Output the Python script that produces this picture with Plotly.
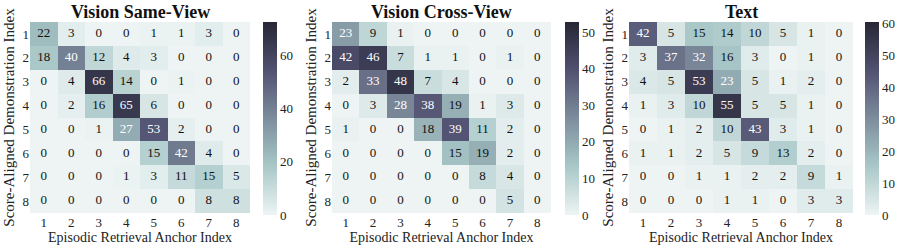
import numpy as np
import plotly.graph_objects as go

titles = ["Vision Same-View", "Vision Cross-View", "Text"]
idx = [1, 2, 3, 4, 5, 6, 7, 8]

same_view = [
    [22, 3, 0, 0, 1, 1, 3, 0],
    [18, 40, 12, 4, 3, 0, 0, 0],
    [0, 4, 66, 14, 0, 1, 0, 0],
    [0, 2, 16, 65, 6, 0, 0, 0],
    [0, 0, 1, 27, 53, 2, 0, 0],
    [0, 0, 0, 0, 15, 42, 4, 0],
    [0, 0, 0, 1, 3, 11, 15, 5],
    [0, 0, 0, 0, 0, 0, 8, 8],
]
cross_view = [
    [23, 9, 1, 0, 0, 0, 0, 0],
    [42, 46, 7, 1, 1, 0, 1, 0],
    [2, 33, 48, 7, 4, 0, 0, 0],
    [0, 3, 28, 38, 19, 1, 3, 0],
    [1, 0, 0, 18, 39, 11, 2, 0],
    [0, 0, 0, 0, 15, 19, 2, 0],
    [0, 0, 0, 0, 0, 8, 4, 0],
    [0, 0, 0, 0, 0, 0, 5, 0],
]
text_mod = [
    [42, 5, 15, 14, 10, 5, 1, 0],
    [3, 37, 32, 16, 3, 0, 1, 0],
    [4, 5, 53, 23, 5, 1, 2, 0],
    [1, 3, 10, 55, 5, 5, 1, 0],
    [0, 1, 2, 10, 43, 3, 1, 0],
    [1, 1, 2, 5, 9, 13, 2, 0],
    [0, 0, 1, 1, 2, 2, 9, 1],
    [0, 0, 0, 1, 1, 0, 3, 3],
]
matrices = [same_view, cross_view, text_mod]
cbar_ticks = [[0, 20, 40, 60], [0, 10, 20, 30, 40, 50], [0, 10, 20, 30, 40, 50, 60]]

# bone colormap, sampled over a cropped range (light -> dark)
def bone(v):
    r = np.interp(v, [0, 0.746032, 1], [0, 0.652778, 1])
    g = np.interp(v, [0, 0.365079, 0.746032, 1], [0, 0.319444, 0.777778, 1])
    b = np.interp(v, [0, 0.365079, 1], [0, 0.444444, 1])
    return "rgb(%d,%d,%d)" % (round(r * 255), round(g * 255), round(b * 255))

lo, hi = 0.95, 0.17
cscale = [[t, bone(lo + (hi - lo) * t)] for t in np.linspace(0, 1, 21)]

W, H = 897, 249
heat_x = [(30, 250), (332, 551), (629, 853)]
cbar_x = [263, 565, 865]
top_px, bot_px = 22, 213
ydom = [1 - bot_px / H, 1 - top_px / H]
serif = "Liberation Serif"

fig = go.Figure()
annotations = []
for i, (m, title) in enumerate(zip(matrices, titles)):
    z = np.array(m, dtype=float)
    zmax = z.max() * 1.1
    n = "" if i == 0 else str(i + 1)
    xa, ya = "x" + n, "y" + n
    fig.add_trace(go.Heatmap(
        z=z, x=idx, y=idx, zmin=0, zmax=zmax, colorscale=cscale,
        xaxis=xa, yaxis=ya, hoverinfo="skip",
        colorbar=dict(
            x=cbar_x[i] / W, xanchor="left", xpad=0, ypad=0,
            y=(ydom[0] + ydom[1]) / 2 - 0.004, yanchor="middle",
            len=(bot_px + 2 - top_px) / H, lenmode="fraction",
            thickness=14, outlinewidth=0, ticks="", tickvals=cbar_ticks[i],
            tickfont=dict(family=serif, size=13, color="#222"),
        ),
    ))
    for light in (True, False):
        xs, ys, ts = [], [], []
        for r in range(8):
            for c in range(8):
                dark_cell = z[r, c] / zmax > 0.366
                if dark_cell == light:
                    xs.append(idx[c]); ys.append(idx[r]); ts.append(str(int(z[r, c])))
        fig.add_trace(go.Scatter(
            x=xs, y=ys, text=ts, mode="text", xaxis=xa, yaxis=ya,
            textfont=dict(family=serif, size=13, color="white" if light else "#111"),
            hoverinfo="skip", showlegend=False,
        ))
    x0, x1 = heat_x[i][0] / W, heat_x[i][1] / W
    fig.update_layout({
        "xaxis" + n: dict(domain=[x0, x1], anchor=ya, range=[0.5, 8.5], tickvals=idx,
                          showgrid=False, zeroline=False, ticks="", ticklen=0, automargin=False,
                          tickfont=dict(family=serif, size=13, color="#222"),
                          title=dict(text="Episodic Retrieval Anchor Index", standoff=1,
                                     font=dict(family=serif, size=14, color="#222"))),
        "yaxis" + n: dict(domain=ydom, anchor=xa, range=[8.5, 0.5], tickvals=idx,
                          showgrid=False, zeroline=False, ticks="", ticklen=0, automargin=False,
                          tickfont=dict(family=serif, size=13, color="#222"),
                          title=dict(text="Score-Aligned Demonstration Index", standoff=4,
                                     font=dict(family=serif, size=15, color="#222"))),
    })
    annotations.append(dict(
        text="<b>%s</b>" % title, x=(x0 + x1) / 2, y=1 - 12 / H, xref="paper", yref="paper",
        showarrow=False, xanchor="center", yanchor="middle",
        font=dict(family=serif, size=18, color="#111"),
    ))

fig.update_layout(
    width=W, height=H, margin=dict(l=0, r=0, t=0, b=0, autoexpand=False),
    paper_bgcolor="white", plot_bgcolor="white", showlegend=False,
    font=dict(family=serif),
    annotations=annotations,
)
fig.write_html("out.html", config={"displayModeBar": False},
               post_script="document.body.style.margin='0';")
